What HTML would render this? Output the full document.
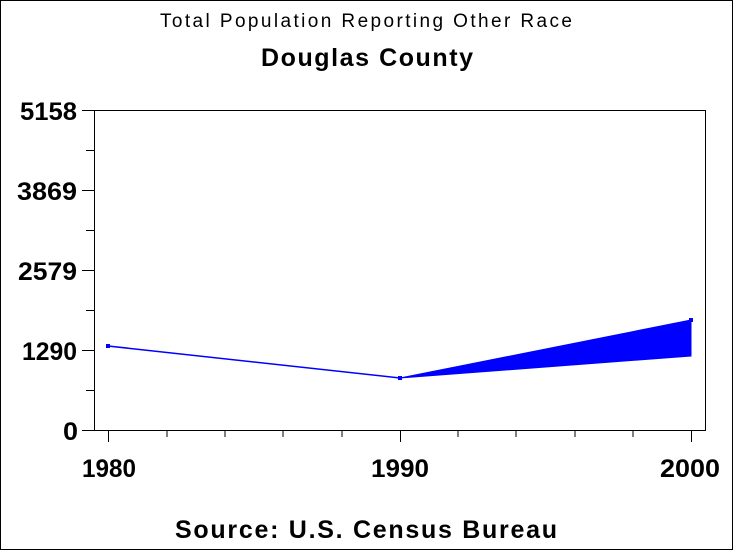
<!DOCTYPE html>
<html><head><style>
body{margin:0;background:#fff}
svg{display:block}
text{font-family:"Liberation Sans",Arial,sans-serif;fill:#000}
</style></head><body>
<svg width="733" height="550" viewBox="0 0 733 550">
<rect x="0.5" y="0.5" width="732" height="549" fill="#fff" stroke="#000"/>
<text x="160" y="27" font-size="19" textLength="412" lengthAdjust="spacing">Total Population Reporting Other Race</text>
<text x="261" y="66" font-size="25" font-weight="bold" textLength="212" lengthAdjust="spacing">Douglas County</text>
<rect x="94.5" y="110.5" width="611" height="320" fill="none" stroke="#000"/>
<g stroke="#000">
<line x1="82" y1="110.5" x2="94" y2="110.5"/><line x1="82" y1="190.5" x2="94" y2="190.5"/>
<line x1="82" y1="270.5" x2="94" y2="270.5"/><line x1="82" y1="350.5" x2="94" y2="350.5"/>
<line x1="82" y1="430.5" x2="94" y2="430.5"/>
<line x1="86" y1="150.5" x2="94" y2="150.5"/><line x1="86" y1="230.5" x2="94" y2="230.5"/>
<line x1="86" y1="310.5" x2="94" y2="310.5"/><line x1="86" y1="390.5" x2="94" y2="390.5"/>
<line x1="108.5" y1="430" x2="108.5" y2="442"/><line x1="400.5" y1="430" x2="400.5" y2="442"/><line x1="691.5" y1="430" x2="691.5" y2="442"/>
<line x1="167" y1="430" x2="167" y2="437"/><line x1="225" y1="430" x2="225" y2="437"/><line x1="283" y1="430" x2="283" y2="437"/><line x1="342" y1="430" x2="342" y2="437"/>
<line x1="458" y1="430" x2="458" y2="437"/><line x1="516" y1="430" x2="516" y2="437"/><line x1="575" y1="430" x2="575" y2="437"/><line x1="633" y1="430" x2="633" y2="437"/>
</g>
<g font-size="25" font-weight="bold">
<text x="20" y="120" textLength="57" lengthAdjust="spacingAndGlyphs">5158</text>
<text x="17" y="200" textLength="60" lengthAdjust="spacingAndGlyphs">3869</text>
<text x="18" y="280" textLength="59" lengthAdjust="spacingAndGlyphs">2579</text>
<text x="22" y="360" textLength="55" lengthAdjust="spacingAndGlyphs">1290</text>
<text x="63" y="440" textLength="15" lengthAdjust="spacingAndGlyphs">0</text>
<text x="82" y="477" textLength="54" lengthAdjust="spacingAndGlyphs">1980</text>
<text x="371" y="477" textLength="58" lengthAdjust="spacingAndGlyphs">1990</text>
<text x="660" y="477" textLength="60" lengthAdjust="spacingAndGlyphs">2000</text>
</g>
<polyline points="108,346 400,378" fill="none" stroke="#0000ff" stroke-width="1.5"/>
<polygon points="400,378 691,320 691,356" fill="#0000ff" stroke="#0000ff"/>
<rect x="106" y="344" width="4" height="4" fill="#0000ff"/>
<rect x="398" y="376" width="4" height="4" fill="#0000ff"/>
<rect x="689" y="318" width="4" height="4" fill="#0000ff"/>
<text x="175" y="538" font-size="25" font-weight="bold" textLength="382" lengthAdjust="spacing">Source: U.S. Census Bureau</text>
</svg>
</body></html>
